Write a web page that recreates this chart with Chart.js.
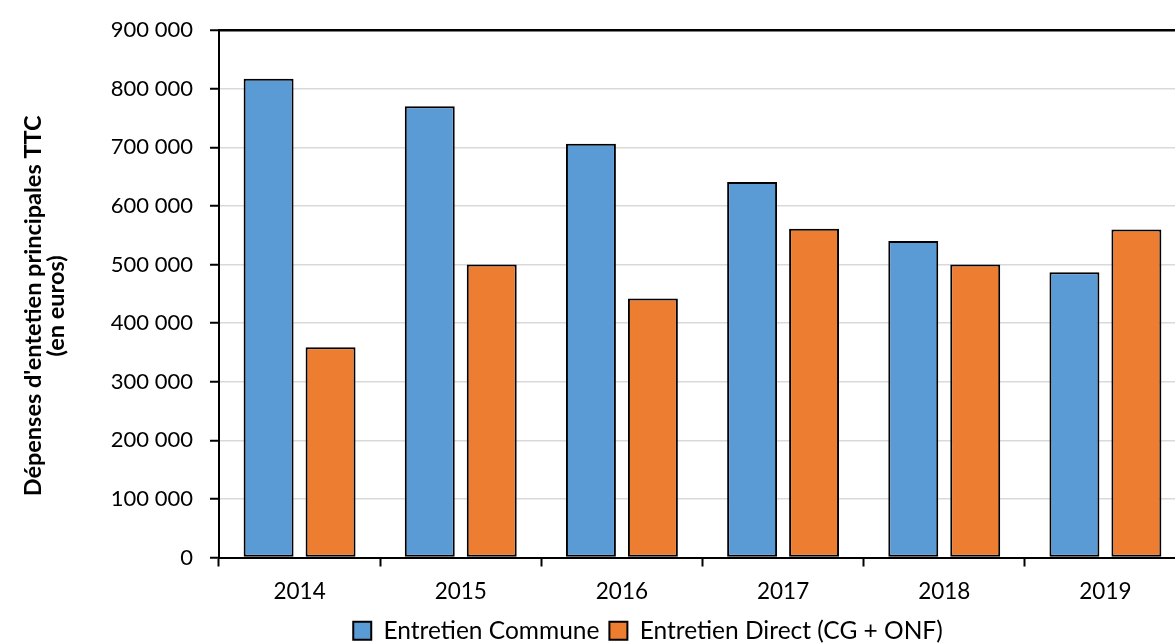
<!DOCTYPE html>
<html>
<head>
<meta charset="utf-8">
<script src="https://cdn.jsdelivr.net/npm/chart.js@4.4.1/dist/chart.umd.min.js"></script>
<style>
  html, body { margin: 0; padding: 0; background: #fff; overflow: hidden; width: 1175px; height: 644px; }
  #wrap { width: 1190px; height: 644px; }
</style>
</head>
<body>
<div id="wrap"><canvas id="chart" width="1190" height="644"></canvas></div>
<script>
// Yearly maintenance spending, in euros (TTC)
const years = ['2014', '2015', '2016', '2017', '2018', '2019'];
const entretienCommune = [817000, 770000, 706000, 641000, 540000, 487000];
const entretienDirect = [359000, 500000, 442000, 561000, 500000, 560000];
const seriesNames = ['Entretien Commune', 'Entretien Direct (CG + ONF)'];
const yTitle = ["Dépenses d'entetien principales TTC", '(en euros)'];
const yMin = 0;
const yMax = 900000;
const yStep = 100000;

const FONT = 'Lato, "Open Sans", sans-serif';

// French-style thousands grouping with a plain space
function groupThousands(v) {
  return String(v).replace(/\B(?=(\d{3})+(?!\d))/g, ' ');
}

// Nudges the legend row and the y-axis title after layout
const placementTweaks = {
  id: 'placementTweaks',
  afterUpdate(chart) {
    const lg = chart.legend;
    if (lg) {
      lg.left += 55; lg.right += 55;
      lg.top += 9; lg.bottom += 9;
    }
    const ys = chart.scales.y;
    if (ys && !ys._titleShifted) {
      const baseDrawTitle = ys.drawTitle.bind(ys);
      ys.drawTitle = function () {
        this.ctx.save();
        this.ctx.translate(0, 12);
        baseDrawTitle();
        this.ctx.restore();
      };
      ys._titleShifted = true;
    }
  }
};

new Chart(document.getElementById('chart'), {
  type: 'bar',
  data: {
    labels: years,
    datasets: [
      {
        label: seriesNames[0],
        data: entretienCommune,
        backgroundColor: '#5B9BD5',
        borderColor: '#000',
        borderWidth: 2,
        borderSkipped: false
      },
      {
        label: seriesNames[1],
        data: entretienDirect,
        backgroundColor: '#ED7D31',
        borderColor: '#000',
        borderWidth: 2,
        borderSkipped: false
      }
    ]
  },
  options: {
    responsive: false,
    animation: false,
    devicePixelRatio: 1,
    categoryPercentage: 0.769,
    barPercentage: 0.806,
    layout: { padding: { left: 0, right: 4, top: 29, bottom: 0 } },
    plugins: {
      tooltip: { enabled: false },
      legend: {
        position: 'bottom',
        labels: {
          color: '#000',
          font: { family: FONT, size: 24.5 },
          boxWidth: 18,
          boxHeight: 18,
          padding: 10
        }
      }
    },
    scales: {
      x: {
        offset: true,
        grid: {
          offset: true,
          drawOnChartArea: false,
          drawTicks: true,
          tickLength: 9,
          tickColor: '#000',
          tickWidth: 2
        },
        border: { color: '#000', width: 2 },
        ticks: {
          color: '#000',
          font: { family: FONT, size: 22.5 },
          padding: 12
        },
        afterFit(scale) { scale.height = 42; }
      },
      y: {
        min: yMin,
        max: yMax,
        ticks: {
          stepSize: yStep,
          color: '#000',
          font: { family: FONT, size: 22 },
          padding: 17,
          callback: (v) => groupThousands(v)
        },
        grid: {
          color: (ctx) => (ctx.tick && ctx.tick.value === yMax ? '#000' : '#d9d9d9'),
          lineWidth: (ctx) => (ctx.tick && ctx.tick.value === yMax ? 2.5 : 1.5),
          tickLength: 9,
          tickColor: '#000',
          tickWidth: 2
        },
        border: { color: '#000', width: 2 },
        title: {
          display: true,
          text: yTitle,
          color: '#000',
          font: { family: FONT, size: 23.5, weight: 'bold', lineHeight: '23px' },
          padding: { top: 22, bottom: 0 }
        },
        afterFit(scale) { scale.width = 219; }
      }
    }
  },
  plugins: [placementTweaks]
});
</script>
</body>
</html>
